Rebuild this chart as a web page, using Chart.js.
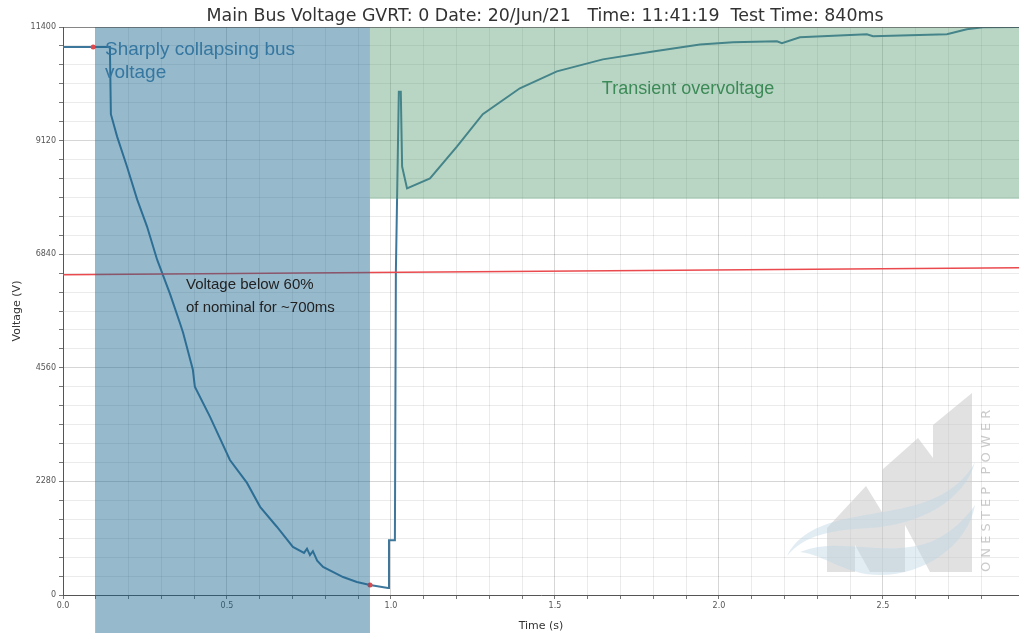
<!DOCTYPE html>
<html>
<head>
<meta charset="utf-8">
<title>Main Bus Voltage GVRT</title>
<script src="https://cdn.jsdelivr.net/npm/chart.js@4.4.1/dist/chart.umd.min.js"></script>
<style>
  html, body { margin: 0; padding: 0; background: #fff; }
  #wrap { width: 1019px; height: 633px; }
</style>
</head>
<body>
<div id="wrap"><canvas id="voltageChart" width="1019" height="633"></canvas></div>
<script>
const timeS = [
  0.000, 0.092, 0.143, 0.146, 0.165, 0.195, 0.226, 0.256, 0.287, 0.326,
  0.357, 0.366, 0.396, 0.402, 0.448, 0.509, 0.561, 0.601, 0.652, 0.701,
  0.735, 0.744, 0.753, 0.762, 0.775, 0.793, 0.854, 0.896, 0.936, 0.991,
  0.994, 1.012, 1.015, 1.024, 1.030, 1.034, 1.049, 1.119, 1.201, 1.280,
  1.393, 1.506, 1.646, 1.799, 1.942, 2.043, 2.177, 2.192, 2.247, 2.451,
  2.470, 2.695, 2.756, 2.805, 2.915
];
const voltageV = [
  11000, 11000, 11000, 9650, 9200, 8600, 7940, 7400, 6730, 6050,
  5450, 5270, 4520, 4180, 3580, 2710, 2250, 1770, 1370, 965,
  845, 930, 800, 880, 690, 565, 360, 260, 200, 140,
  1100, 1100, 6500, 10100, 10100, 8600, 8160, 8360, 9000, 9650,
  10170, 10510, 10750, 10910, 11050, 11095, 11115, 11075, 11195, 11255,
  11215, 11255, 11355, 11395, 11400
];

// 60% of nominal reference line
const limitTimeS = [0, 2.915];
const limitVoltageV = [6430, 6570];

// fault start / clear markers
const markerTimeS = [0.092, 0.936];
const markerVoltageV = [11000, 200];

// shaded windows
const collapseWindowS = [0.098, 0.936];
const overvoltageFromS = 0.936;
const overvoltageFloorV = 7950;

// axes
const xRangeS = [0, 2.915];
const yRangeV = [0, 11400];
const xStepS = 0.1, xMajorS = 0.5;
const yStepV = 380, yMajorV = 2280;

const chartTitle = "Main Bus Voltage GVRT: 0 Date: 20/Jun/21   Time: 11:41:19  Test Time: 840ms";

const toPoints = (xs, ys) => xs.map((x, i) => ({ x: x, y: ys[i] }));
const isMajor = (v, major) => Math.abs(v / major - Math.round(v / major)) < 1e-6;

// watermark logo in the lower right corner (pixels, behind the data)
const watermark = {
  id: "watermark",
  beforeDatasetsDraw(chart) {
    const c = chart.ctx;
    c.save();
    c.fillStyle = "rgba(200,200,200,0.55)";
    c.beginPath();
    c.moveTo(827, 572); c.lineTo(827, 528); c.lineTo(866, 486); c.lineTo(882, 512);
    c.lineTo(882, 470); c.lineTo(918, 438); c.lineTo(933, 458); c.lineTo(933, 425);
    c.lineTo(972, 393); c.lineTo(972, 572); c.lineTo(930, 572); c.lineTo(905, 525);
    c.lineTo(905, 572); c.lineTo(870, 572); c.lineTo(855, 545); c.lineTo(855, 572);
    c.closePath();
    c.fill();
    c.fillStyle = "rgba(190,215,228,0.45)";
    c.beginPath();
    c.moveTo(787, 556);
    c.bezierCurveTo(810, 510, 880, 520, 930, 500);
    c.bezierCurveTo(955, 490, 968, 475, 975, 462);
    c.bezierCurveTo(965, 500, 920, 525, 870, 528);
    c.bezierCurveTo(830, 530, 805, 535, 787, 556);
    c.fill();
    c.beginPath();
    c.moveTo(800, 552);
    c.bezierCurveTo(840, 535, 890, 560, 935, 540);
    c.bezierCurveTo(955, 530, 968, 515, 975, 505);
    c.bezierCurveTo(968, 545, 925, 575, 880, 575);
    c.bezierCurveTo(845, 575, 825, 555, 800, 552);
    c.fill();
    c.translate(987, 572);
    c.rotate(-Math.PI / 2);
    c.fillStyle = "rgba(180,180,180,0.7)";
    c.font = "13px 'DejaVu Sans'";
    c.textBaseline = "middle";
    c.fillText("O N E S T E P   P O W E R", 0, 0);
    c.restore();
  }
};

// translucent spans drawn over the trace, then the notes and the title
const shading = {
  id: "shading",
  afterDatasetsDraw(chart) {
    const { ctx, chartArea, scales } = chart;
    const x = scales.x, y = scales.y;
    ctx.save();
    ctx.fillStyle = "rgba(24,99,142,0.45)";
    const bx0 = x.getPixelForValue(collapseWindowS[0]);
    const bx1 = x.getPixelForValue(collapseWindowS[1]);
    ctx.fillRect(bx0, chartArea.top, bx1 - bx0, chart.height - chartArea.top);
    ctx.fillStyle = "rgba(80,152,110,0.4)";
    const gx0 = x.getPixelForValue(overvoltageFromS);
    const gy1 = y.getPixelForValue(overvoltageFloorV);
    ctx.fillRect(gx0, chartArea.top, chartArea.right - gx0, gy1 - chartArea.top);
    ctx.restore();
  },
  afterDraw(chart) {
    const { ctx, scales, chartArea } = chart;
    const x = scales.x, y = scales.y;
    const note = (text, t, v, font, color) => {
      ctx.font = font;
      ctx.fillStyle = color;
      ctx.textBaseline = "middle";
      ctx.fillText(text, x.getPixelForValue(t), y.getPixelForValue(v));
    };
    ctx.save();
    note("Sharply collapsing bus", 0.128, 10950, "19px 'Liberation Sans'", "#3577a0");
    note("voltage", 0.128, 10490, "19px 'Liberation Sans'", "#3577a0");
    note("Transient overvoltage", 1.643, 10150, "18px 'Liberation Sans'", "#3c8a57");
    note("Voltage below 60%", 0.375, 6230, "15px 'Liberation Sans'", "#222");
    note("of nominal for ~700ms", 0.375, 5770, "15px 'Liberation Sans'", "#222");

    ctx.strokeStyle = "rgba(80,80,80,0.6)";
    ctx.lineWidth = 1;
    ctx.beginPath();
    ctx.moveTo(chartArea.left, chartArea.top + 0.5);
    ctx.lineTo(chartArea.right, chartArea.top + 0.5);
    ctx.stroke();

    ctx.font = "17.4px 'DejaVu Sans'";
    ctx.fillStyle = "#333";
    ctx.textAlign = "center";
    ctx.textBaseline = "middle";
    ctx.fillText(chartTitle, 545, 16);
    ctx.restore();
  }
};

new Chart(document.getElementById("voltageChart"), {
  type: "line",
  data: {
    datasets: [
      {
        label: "Bus voltage",
        data: toPoints(timeS, voltageV),
        borderColor: "#3e779c",
        borderWidth: 2,
        pointRadius: 0,
        tension: 0,
        order: 2
      },
      {
        label: "60% of nominal",
        data: toPoints(limitTimeS, limitVoltageV),
        borderColor: "#ea4a4e",
        borderWidth: 1.5,
        pointRadius: 0,
        order: 1
      },
      {
        label: "Fault markers",
        data: toPoints(markerTimeS, markerVoltageV),
        showLine: false,
        pointRadius: 2.5,
        pointBackgroundColor: "#e0484c",
        pointBorderWidth: 0,
        order: 0
      }
    ]
  },
  options: {
    responsive: false,
    animation: false,
    devicePixelRatio: 1,
    layout: { padding: { top: 27, left: 0, right: 0, bottom: 0 }, autoPadding: false },
    plugins: {
      legend: { display: false },
      tooltip: { enabled: false },
      title: { display: false }
    },
    scales: {
      x: {
        type: "linear",
        min: xRangeS[0],
        max: xRangeS[1],
        afterFit: scale => {
          scale.height = 38;
          scale.paddingLeft = 0;
          scale.paddingRight = 0;
        },
        ticks: {
          stepSize: xStepS,
          autoSkip: false,
          maxRotation: 0,
          padding: 2,
          color: "#555",
          font: { family: "DejaVu Sans", size: 8 },
          callback: v => isMajor(v, xMajorS) ? v.toFixed(1) : ""
        },
        grid: {
          color: c => isMajor(c.tick.value, xMajorS) ? "rgba(0,0,0,0.16)" : "rgba(0,0,0,0.08)",
          tickColor: "#777",
          tickLength: 4
        },
        border: { color: "#555", width: 1 },
        title: {
          display: true,
          text: "Time (s)",
          color: "#333",
          font: { family: "DejaVu Sans", size: 11 },
          padding: { top: 7, bottom: 0 }
        }
      },
      y: {
        min: yRangeV[0],
        max: yRangeV[1],
        afterFit: scale => { scale.width = 63; },
        ticks: {
          stepSize: yStepV,
          autoSkip: false,
          padding: 3,
          color: "#555",
          font: { family: "DejaVu Sans", size: 8 },
          callback: v => isMajor(v, yMajorV) ? String(v) : ""
        },
        grid: {
          color: c => isMajor(c.tick.value, yMajorV) ? "rgba(0,0,0,0.16)" : "rgba(0,0,0,0.08)",
          tickColor: "#777",
          tickLength: 4
        },
        border: { color: "#555", width: 1 },
        title: {
          display: true,
          text: "Voltage (V)",
          color: "#333",
          font: { family: "DejaVu Sans", size: 11 },
          padding: { top: 11, bottom: 0 }
        }
      }
    }
  },
  plugins: [watermark, shading]
});
</script>
</body>
</html>
